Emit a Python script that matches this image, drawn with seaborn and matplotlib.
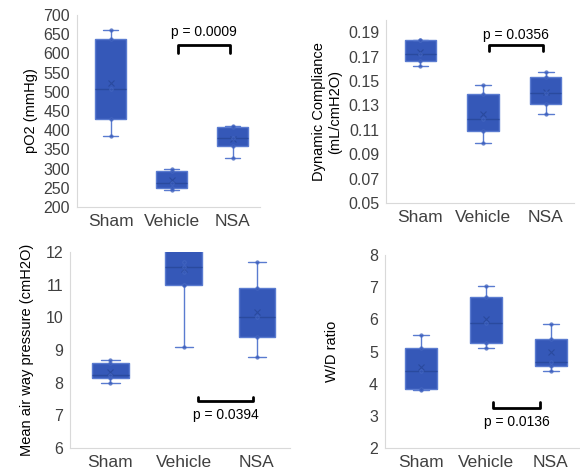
import numpy as np
import pandas as pd
import matplotlib
matplotlib.use("Agg")
import matplotlib.pyplot as plt
import seaborn as sns

sns.set_style("white")
plt.rcParams['font.family'] = ['Liberation Sans', 'DejaVu Sans']

groups = ["Sham", "Vehicle", "NSA"]

# values (min, Q1, median, Q3, max style samples)
po2_sham = [385, 430, 508, 638, 660]
po2_vehicle = [245, 250, 262, 295, 298]
po2_nsa = [328, 358, 380, 408, 412]

dc_sham = [0.162, 0.166, 0.172, 0.184, 0.184]
dc_vehicle = [0.099, 0.109, 0.119, 0.139, 0.147]
dc_nsa = [0.123, 0.131, 0.140, 0.153, 0.157]

map_sham = [8.0, 8.15, 8.22, 8.6, 8.7]
map_vehicle = [9.1, 11.0, 11.0, 11.4, 11.55, 11.7, 12.1, 12.5, 13.0]
map_nsa = [8.8, 9.4, 10.0, 10.9, 11.7]

wd_sham = [3.8, 3.82, 4.4, 5.12, 5.5]
wd_vehicle = [5.1, 5.27, 5.88, 6.7, 7.05]
wd_nsa = [4.4, 4.55, 4.67, 5.4, 5.85]

p_texts = ["p = 0.0009", "p = 0.0356", "p = 0.0394", "p = 0.0136"]

fill = "#3558b8"
edge = "#5a7bd0"
dark = "#404040"


def make_df(a, b, c):
    rows = []
    for g, vals in zip(groups, [a, b, c]):
        for v in vals:
            rows.append({"group": g, "value": v})
    return pd.DataFrame(rows)


def draw_panel(ax, df, ylim, yticks, ylabel, fmt, bracket, ptext, labelpad=4):
    sns.boxplot(data=df, x="group", y="value", order=groups, ax=ax,
                whis=(0, 100), width=0.5, color=fill, saturation=1,
                linewidth=1.0, showfliers=False,
                boxprops=dict(facecolor=fill, edgecolor=edge),
                whiskerprops=dict(color=edge), capprops=dict(color=edge),
                medianprops=dict(color="#2a4a9e", linewidth=1.0),
                showmeans=True,
                meanprops=dict(marker="x", markeredgecolor="#2a4a9e",
                               markersize=5, markeredgewidth=0.8))
    sns.stripplot(data=df, x="group", y="value", order=groups, ax=ax,
                  jitter=False, size=2.5, color=fill, alpha=0.7,
                  linewidth=0.6, edgecolor="#4a6cc4")
    ax.set_ylim(*ylim)
    ax.set_yticks(yticks)
    ax.set_yticklabels([fmt.format(t) for t in yticks], fontsize=11.5, color=dark)
    ax.tick_params(axis="x", labelsize=12.5, colors=dark, length=0, pad=5)
    ax.tick_params(axis="y", length=0, pad=5)
    ax.set_xlabel("")
    ax.set_ylabel(ylabel, fontsize=10.5, color="black", labelpad=labelpad)
    ax.set_xlim(-0.55, 2.45)
    for s in ["top", "right"]:
        ax.spines[s].set_visible(False)
    for s in ["left", "bottom"]:
        ax.spines[s].set_color("#d9d9d9")
        ax.spines[s].set_linewidth(0.8)
    x0, x1, ytop, ybot, ytext, up = bracket
    if up:
        ax.plot([x0, x0, x1, x1], [ybot, ytop, ytop, ybot], color="black", lw=2)
    else:
        ax.plot([x0, x0, x1, x1], [ytop, ybot, ybot, ytop], color="black", lw=2)
    ax.text((x0 + x1) / 2, ytext, ptext, ha="center", va="center",
            fontsize=10, color="black")


fig = plt.figure(figsize=(5.8, 4.75), dpi=100)
ax1 = fig.add_axes([77 / 580, 1 - 207 / 475, 183 / 580, 192 / 475])
ax2 = fig.add_axes([386 / 580, 1 - 203 / 475, 188 / 580, 183 / 475])
ax3 = fig.add_axes([70 / 580, 1 - 448 / 475, 220 / 580, 196 / 475])
ax4 = fig.add_axes([385 / 580, 1 - 448 / 475, 195 / 580, 193 / 475])

draw_panel(ax1, make_df(po2_sham, po2_vehicle, po2_nsa), (200, 700),
           list(range(200, 701, 50)), "pO2 (mmHg)", "{:.0f}",
           (1.1, 1.95, 621, 602, 655, True), p_texts[0])
draw_panel(ax2, make_df(dc_sham, dc_vehicle, dc_nsa), (0.05, 0.20),
           [0.05, 0.07, 0.09, 0.11, 0.13, 0.15, 0.17, 0.19],
           "Dynamic Compliance\n(mL/cmH2O)", "{:.2f}",
           (1.1, 1.95, 0.1795, 0.175, 0.188, True), p_texts[1])
draw_panel(ax3, make_df(map_sham, map_vehicle, map_nsa), (6, 12),
           list(range(6, 13)), "Mean air way pressure (cmH2O)", "{:.0f}",
           (1.2, 1.95, 7.55, 7.45, 7.0, False), p_texts[2], labelpad=8)
draw_panel(ax4, make_df(wd_sham, wd_vehicle, wd_nsa), (2, 8),
           list(range(2, 9)), "W/D ratio", "{:.0f}",
           (1.11, 1.84, 3.44, 3.23, 2.8, False), p_texts[3], labelpad=22)

fig.savefig("out.png", dpi=100)
